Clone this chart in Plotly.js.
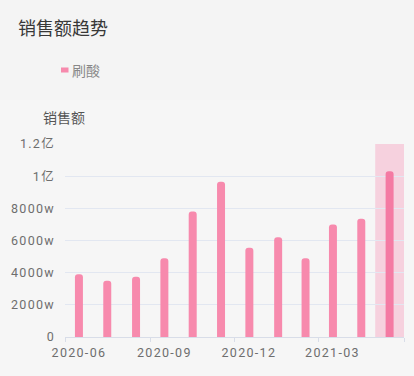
<!DOCTYPE html>
<html>
<head>
<meta charset="utf-8">
<script src="https://cdn.plot.ly/plotly-3.0.1.min.js"></script>
<style>
html,body{margin:0;padding:0;background:#f4f4f4;}
#chart{width:414px;height:376px;}
#chart .xtick text, #chart .ytick text{letter-spacing:1.3px;}
</style>
</head>
<body>
<div id="chart"></div>
<script>
const months = ['2020-06','2020-07','2020-08','2020-09','2020-10','2020-11','2020-12','2021-01','2021-02','2021-03','2021-04','2021-05'];
const sales = [39000000,35000000,37500000,49000000,78000000,96500000,55500000,62000000,49000000,70000000,73500000,103000000];
const seriesName = '刷酸';
const yTickVals = [0,20000000,40000000,60000000,80000000,100000000,120000000];
const yTickText = ['0','2000w','4000w','6000w','8000w','1亿','1.2亿'];
const xTickVals = ['2020-06-16','2020-09-16','2020-12-16','2021-03-16'];
const xTickText = ['2020-06','2020-09','2020-12','2021-03'];
const highlightMonth = ['2021-05-01','2021-06-01'];

const W = 414, H = 376, L = 65, R = 10, T = 144, B = 39;
const pw = W - L - R, ph = H - T - B;
const px = x => (x - L) / pw;
const py = y => (H - B - y) / ph;

const font = 'Roboto, "Noto Sans CJK SC", sans-serif';
const cjk = '"Noto Sans CJK SC", Roboto, sans-serif';
const barColors = months.map((m, i) => i === months.length - 1 ? '#f47aa3' : '#f78aad');

const trace = {
  type: 'bar',
  x: months,
  y: sales,
  name: seriesName,
  xperiod: 'M1',
  xperiodalignment: 'middle',
  width: months.map(() => 8.6 * 86400000),
  marker: {color: barColors, cornerradius: 4, line: {width: 0}},
  showlegend: false,
  hoverinfo: 'none'
};

const layout = {
  width: W, height: H,
  margin: {l: L, r: R, t: T, b: B, pad: 0},
  paper_bgcolor: '#f4f4f4',
  plot_bgcolor: 'rgba(0,0,0,0)',
  font: {family: font, size: 12, color: '#666'},
  xaxis: {
    type: 'date',
    range: ['2020-06-01', '2021-06-01'],
    tickmode: 'array',
    tickvals: xTickVals,
    ticktext: xTickText,
    ticks: '',
    showgrid: false,
    showline: true,
    linecolor: '#d8dde8',
    linewidth: 1,
    zeroline: false,
    tickfont: {family: font, size: 12.5, color: '#6e6e6e'},
    ticklabelstandoff: 4,
    minor: {dtick: 'M3', tick0: '2020-06-01', ticks: 'outside', ticklen: 4, tickcolor: '#d8dde8', tickwidth: 1, showgrid: false},
    fixedrange: true
  },
  yaxis: {
    range: [0, 120000000],
    tickmode: 'array',
    tickvals: yTickVals,
    ticktext: yTickText,
    ticks: '',
    showgrid: true,
    gridcolor: '#e2e7f1',
    gridwidth: 1,
    zeroline: false,
    showline: false,
    tickfont: {family: font, size: 12.5, color: '#6e6e6e'},
    ticklabelstandoff: 9,
    fixedrange: true
  },
  shapes: [
    {type: 'rect', xref: 'paper', yref: 'paper', x0: px(0), x1: px(414), y0: py(376), y1: py(100),
     fillcolor: '#f6f6f6', line: {width: 0}, layer: 'below'},
    {type: 'rect', xref: 'x', yref: 'paper', x0: highlightMonth[0], x1: highlightMonth[1], y0: 0, y1: 1,
     fillcolor: 'rgba(246,150,185,0.38)', line: {width: 0}, layer: 'below'},
    {type: 'rect', xref: 'paper', yref: 'paper', x0: px(61), x1: px(68.5), y0: py(72.5), y1: py(67.5),
     fillcolor: '#f78aad', line: {width: 0}}
  ],
  annotations: [
    {text: '销售额趋势', xref: 'paper', yref: 'paper', x: px(16), y: py(27), xanchor: 'left', yanchor: 'middle',
     showarrow: false, font: {family: cjk, size: 18, color: '#383838'}},
    {text: seriesName, xref: 'paper', yref: 'paper', x: px(70), y: py(70), xanchor: 'left', yanchor: 'middle',
     showarrow: false, font: {family: cjk, size: 14, color: '#888'}},
    {text: '销售额', xref: 'paper', yref: 'paper', x: px(64), y: py(117), xanchor: 'center', yanchor: 'middle',
     showarrow: false, font: {family: cjk, size: 14, color: '#555'}}
  ],
  showlegend: false
};

Plotly.newPlot('chart', [trace], layout, {displayModeBar: false, staticPlot: true});
</script>
</body>
</html>
